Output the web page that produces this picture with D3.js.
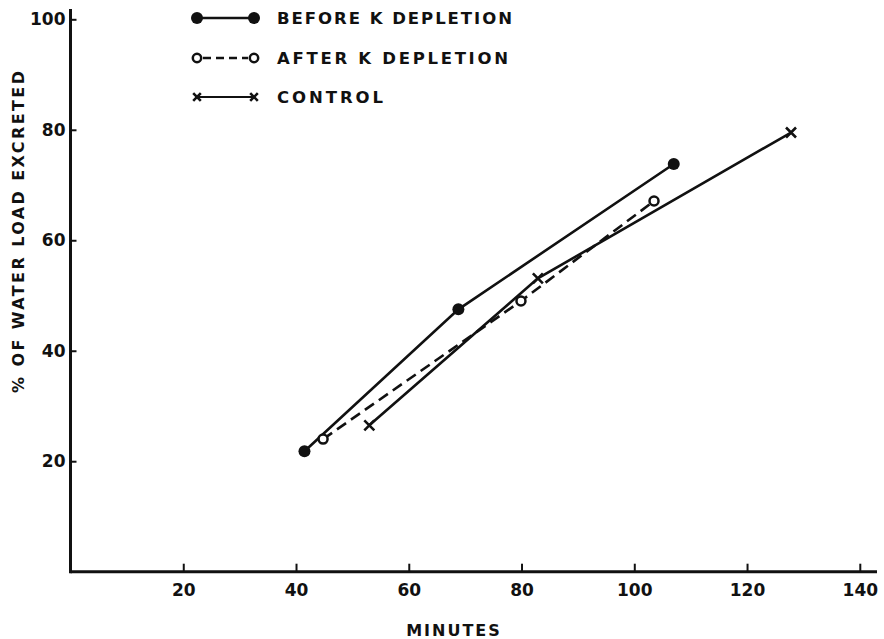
<!DOCTYPE html>
<html><head><meta charset="utf-8">
<script src="https://cdn.jsdelivr.net/npm/d3@7"></script>
<style>
html,body{margin:0;padding:0;background:#fff;}
text{font-family:"DejaVu Sans",sans-serif;font-weight:bold;fill:#111;}
</style></head>
<body><svg id="c" width="884" height="639"></svg>
<script>
const xTicks = [20, 40, 60, 80, 100, 120, 140];
const yTicks = [20, 40, 60, 80, 100];
const beforeX = [41.5, 68.8, 107];
const beforeY = [21.8, 47.5, 73.8];
const afterX = [44.8, 79.9, 103.5];
const afterY = [24.0, 49.0, 67.1];
const controlX = [53, 82.9, 127.8];
const controlY = [26.5, 53.1, 79.5];
const legendLabels = ["BEFORE K DEPLETION", "AFTER K DEPLETION", "CONTROL"];
const xTitle = "MINUTES";
const yTitle = "% OF WATER LOAD EXCRETED";

const svg = d3.select("#c");
const ink = "#111";
const x = d3.scaleLinear().domain([0, 140]).range([70.5, 859.8]);
const y = d3.scaleLinear().domain([0, 100]).range([571.7, 19.3]);

// axes
svg.append("line").attr("x1", x(0)).attr("x2", 877).attr("y1", y(0)).attr("y2", y(0))
  .attr("stroke", ink).attr("stroke-width", 3);
svg.append("line").attr("x1", x(0)).attr("x2", x(0)).attr("y1", 9).attr("y2", y(0) + 1.5)
  .attr("stroke", ink).attr("stroke-width", 3);

const xAxis = d3.axisBottom(x).tickValues(xTicks).tickSize(-8).tickPadding(10);
const gx = svg.append("g").attr("transform", `translate(0,${y(0)})`).call(xAxis);
gx.select(".domain").remove();
gx.selectAll(".tick line").attr("stroke", ink).attr("stroke-width", 2);
gx.selectAll(".tick text").attr("font-size", 17).attr("y", 9).attr("dy", "0.9em")
  .style("font-family", "DejaVu Sans").style("font-weight", "bold").attr("fill", ink);

const yAxis = d3.axisLeft(y).tickValues(yTicks).tickSize(-6).tickPadding(6);
const gy = svg.append("g").attr("transform", `translate(${x(0)},0)`).call(yAxis);
gy.select(".domain").remove();
gy.selectAll(".tick line").attr("stroke", ink).attr("stroke-width", 2);
gy.selectAll(".tick text").attr("font-size", 17).attr("x", -5)
  .style("font-family", "DejaVu Sans").style("font-weight", "bold").attr("fill", ink);

// titles
svg.append("text").attr("x", 454).attr("y", 630).attr("dy", "0.36em").attr("text-anchor", "middle")
  .attr("font-size", 16).attr("letter-spacing", 2).text(xTitle);
svg.append("text").attr("transform", "translate(18,232) rotate(-90)").attr("dy", "0.36em").attr("text-anchor", "middle")
  .attr("font-size", 16).attr("textLength", 322).attr("lengthAdjust", "spacing").text(yTitle);

// series
const line = d3.line().x(d => x(d[0])).y(d => y(d[1]));
const zip = (a, b) => a.map((v, i) => [v, b[i]]);
const before = zip(beforeX, beforeY), after = zip(afterX, afterY), control = zip(controlX, controlY);

svg.append("path").datum(control).attr("d", line).attr("fill", "none").attr("stroke", ink).attr("stroke-width", 2.6);
svg.append("path").datum(after).attr("d", line).attr("fill", "none").attr("stroke", ink).attr("stroke-width", 2.6)
  .attr("stroke-dasharray", "11,6");
svg.append("path").datum(before).attr("d", line).attr("fill", "none").attr("stroke", ink).attr("stroke-width", 2.6);

function xMark(g, cx, cy, s) {
  g.append("path").attr("d", `M${cx - s},${cy - s}L${cx + s},${cy + s}M${cx - s},${cy + s}L${cx + s},${cy - s}`)
    .attr("stroke", ink).attr("stroke-width", 2.6).attr("fill", "none");
}
svg.selectAll("circle.b").data(before).enter().append("circle")
  .attr("cx", d => x(d[0])).attr("cy", d => y(d[1])).attr("r", 6).attr("fill", ink);
svg.selectAll("circle.a").data(after).enter().append("circle")
  .attr("cx", d => x(d[0])).attr("cy", d => y(d[1])).attr("r", 4.5).attr("fill", "#fff")
  .attr("stroke", ink).attr("stroke-width", 2.5);
control.forEach(d => xMark(svg, x(d[0]), y(d[1]), 5));

// legend
const legY = [18, 58, 97];
const lx1 = 197, lx2 = 254, tx = 277;
const legW = [235, 231, 106];
const lg = svg.append("g");
lg.append("line").attr("x1", lx1).attr("x2", lx2).attr("y1", legY[0]).attr("y2", legY[0]).attr("stroke", ink).attr("stroke-width", 2.6);
[lx1, lx2].forEach(cx => lg.append("circle").attr("cx", cx).attr("cy", legY[0]).attr("r", 6).attr("fill", ink));
lg.append("line").attr("x1", lx1 + 6).attr("x2", lx2 - 6).attr("y1", legY[1]).attr("y2", legY[1]).attr("stroke", ink)
  .attr("stroke-width", 2.6).attr("stroke-dasharray", "8,5");
[lx1, lx2].forEach(cx => lg.append("circle").attr("cx", cx).attr("cy", legY[1]).attr("r", 4.2).attr("fill", "#fff")
  .attr("stroke", ink).attr("stroke-width", 2.5));
lg.append("line").attr("x1", lx1).attr("x2", lx2).attr("y1", legY[2]).attr("y2", legY[2]).attr("stroke", ink).attr("stroke-width", 2.2);
[lx1, lx2].forEach(cx => xMark(lg, cx, legY[2], 3.8));

legendLabels.forEach((t, i) => {
  lg.append("text").attr("x", tx).attr("y", legY[i]).attr("dy", "0.36em").attr("font-size", 16.5)
    .attr("textLength", legW[i]).attr("lengthAdjust", "spacing").text(t);
});
</script></body></html>
